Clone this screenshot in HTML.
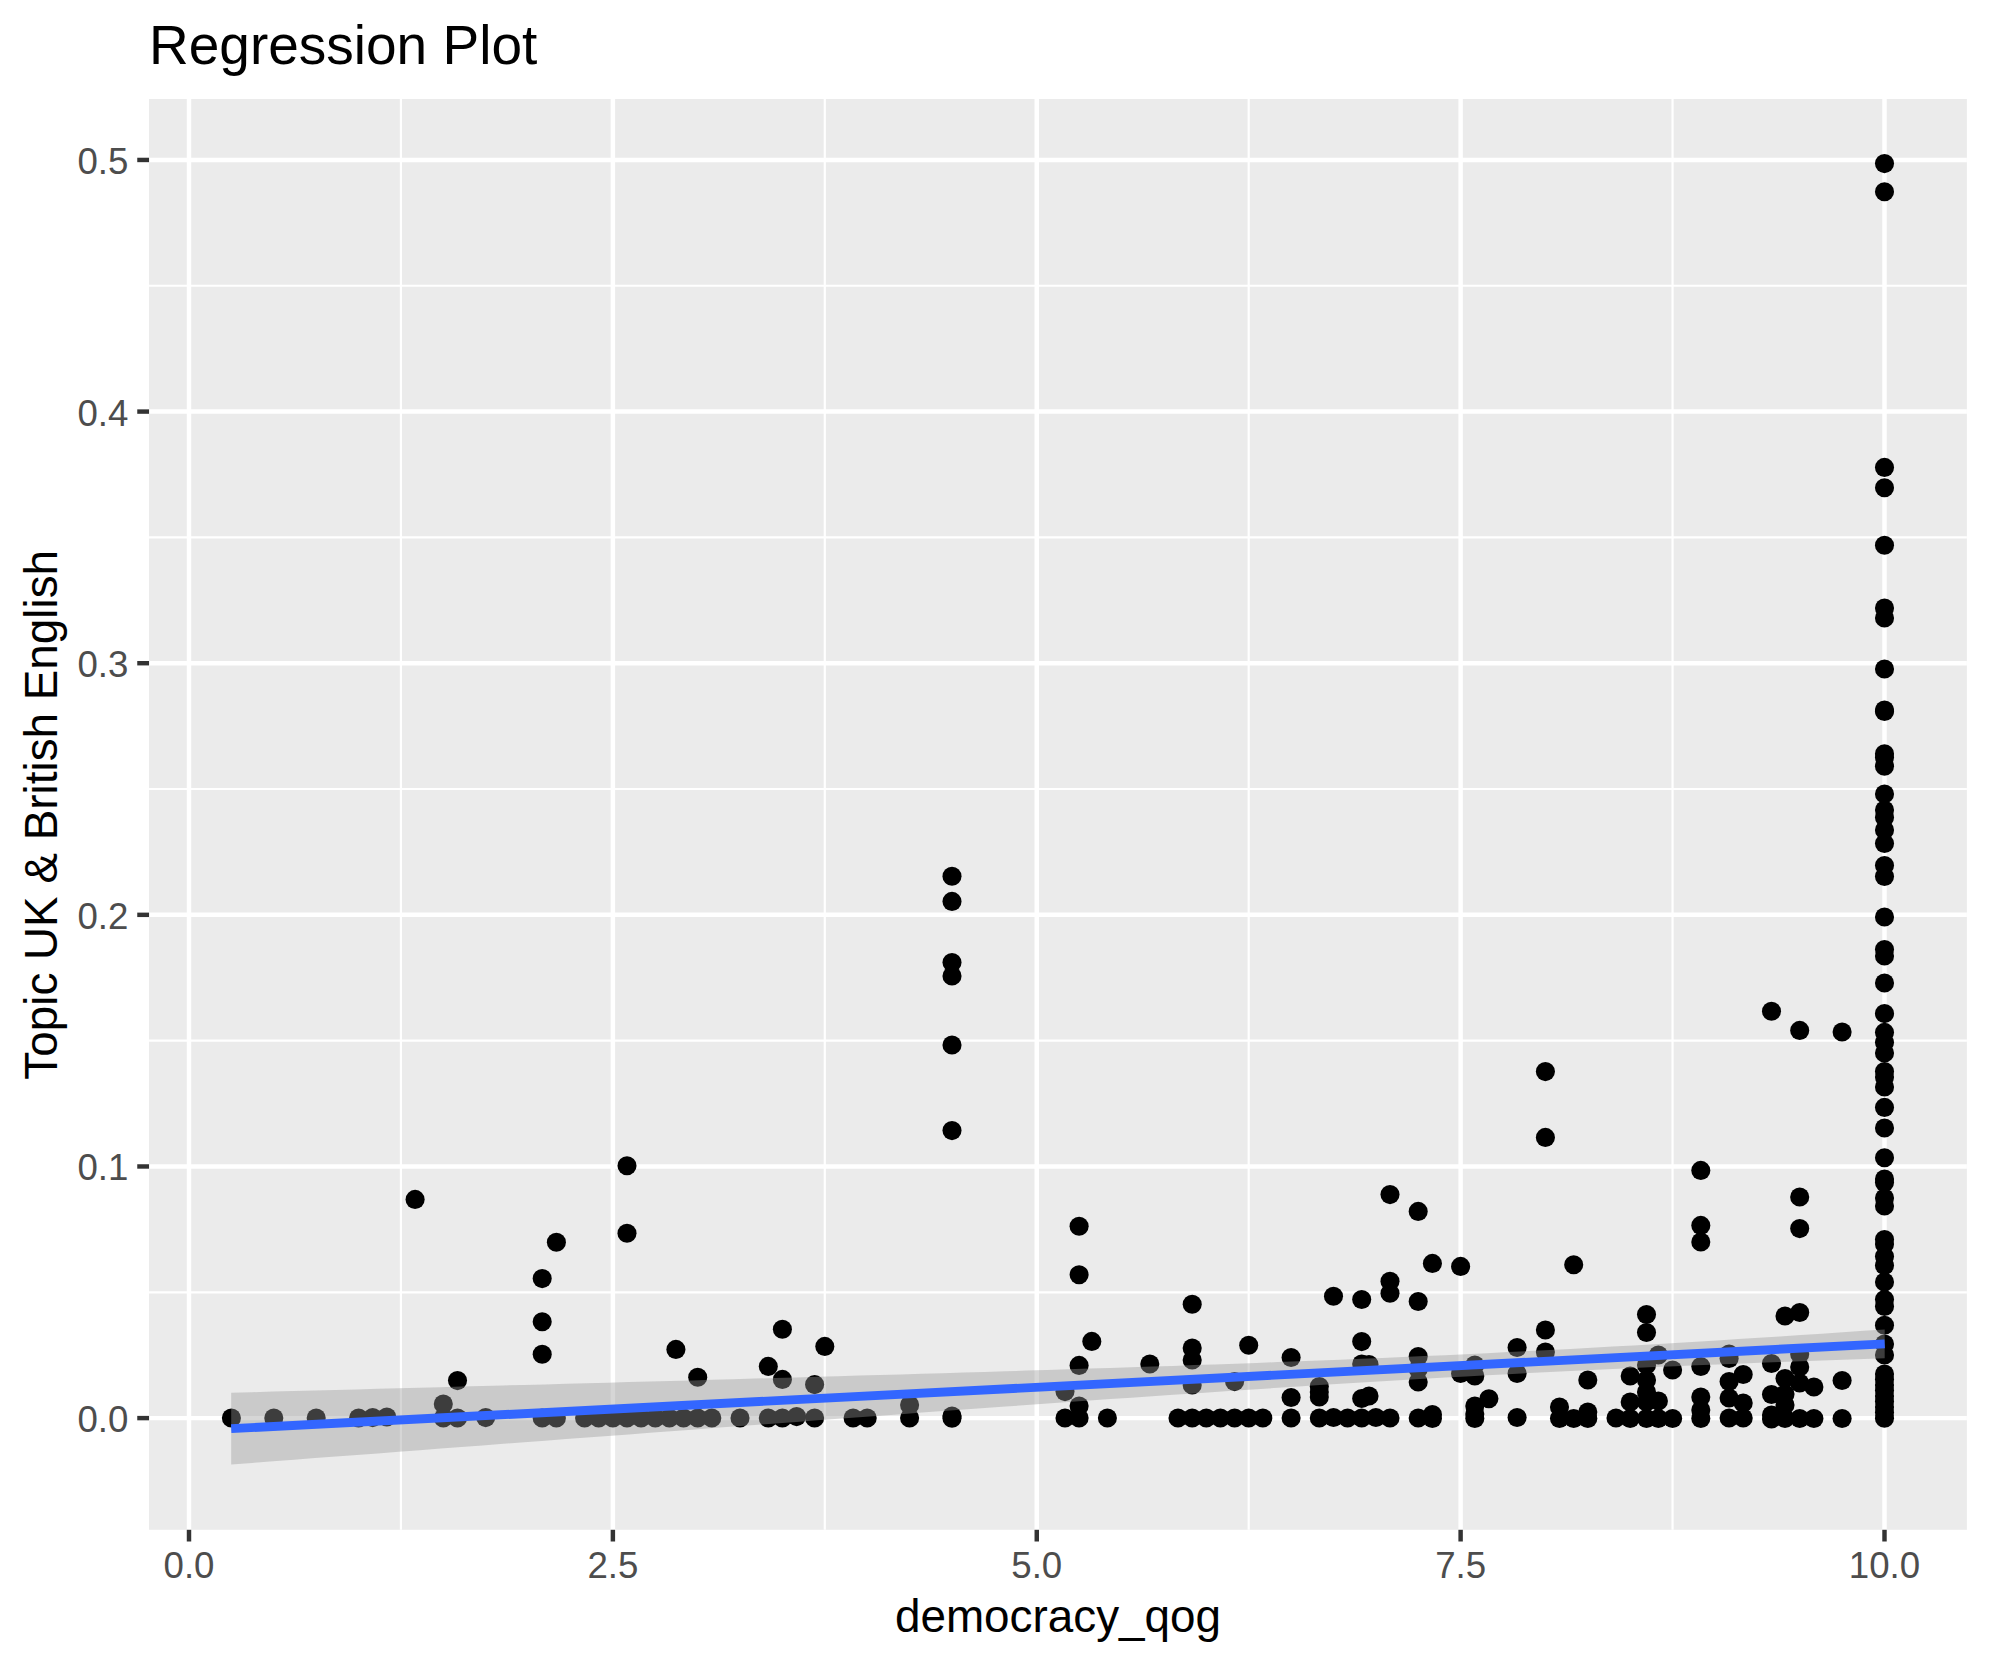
<!DOCTYPE html>
<html lang="en"><head><meta charset="utf-8"><title>Regression Plot</title>
<style>html,body{margin:0;padding:0;background:#fff}body{width:1990px;height:1665px;overflow:hidden}svg{display:block}text{font-family:"Liberation Sans",Arial,Helvetica,sans-serif}</style></head><body>
<svg width="1990" height="1665" viewBox="0 0 1990 1665">
<rect width="1990" height="1665" fill="#fff"/>
<rect x="149.05" y="99.0" width="1817.85" height="1430.80" fill="#EBEBEB"/>
<g stroke="#fff" stroke-width="2.2" fill="none">
<path d="M400.94,99.0V1529.8"/>
<path d="M824.81,99.0V1529.8"/>
<path d="M1248.69,99.0V1529.8"/>
<path d="M1672.56,99.0V1529.8"/>
<path d="M149.05,1292.28H1966.9"/>
<path d="M149.05,1040.65H1966.9"/>
<path d="M149.05,789.02H1966.9"/>
<path d="M149.05,537.39H1966.9"/>
<path d="M149.05,285.76H1966.9"/>
</g>
<g stroke="#fff" stroke-width="4.45" fill="none">
<path d="M189.00,99.0V1529.8"/>
<path d="M612.88,99.0V1529.8"/>
<path d="M1036.75,99.0V1529.8"/>
<path d="M1460.62,99.0V1529.8"/>
<path d="M1884.50,99.0V1529.8"/>
<path d="M149.05,1418.10H1966.9"/>
<path d="M149.05,1166.47H1966.9"/>
<path d="M149.05,914.84H1966.9"/>
<path d="M149.05,663.21H1966.9"/>
<path d="M149.05,411.58H1966.9"/>
<path d="M149.05,159.95H1966.9"/>
</g>
<g fill="#000">
<circle cx="231.4" cy="1418.0" r="9.55"/>
<circle cx="273.8" cy="1418.0" r="9.55"/>
<circle cx="316.2" cy="1418.0" r="9.55"/>
<circle cx="358.6" cy="1418.0" r="9.55"/>
<circle cx="372.7" cy="1417.6" r="9.55"/>
<circle cx="386.8" cy="1417.0" r="9.55"/>
<circle cx="415.1" cy="1199.4" r="9.55"/>
<circle cx="443.3" cy="1404.0" r="9.55"/>
<circle cx="443.3" cy="1418.0" r="9.55"/>
<circle cx="457.5" cy="1380.6" r="9.55"/>
<circle cx="457.5" cy="1418.0" r="9.55"/>
<circle cx="485.7" cy="1417.6" r="9.55"/>
<circle cx="542.2" cy="1278.6" r="9.55"/>
<circle cx="542.2" cy="1321.7" r="9.55"/>
<circle cx="542.2" cy="1354.3" r="9.55"/>
<circle cx="542.2" cy="1418.0" r="9.55"/>
<circle cx="556.4" cy="1242.2" r="9.55"/>
<circle cx="556.4" cy="1418.0" r="9.55"/>
<circle cx="584.6" cy="1418.0" r="9.55"/>
<circle cx="598.7" cy="1418.0" r="9.55"/>
<circle cx="612.9" cy="1418.0" r="9.55"/>
<circle cx="627.0" cy="1418.0" r="9.55"/>
<circle cx="641.1" cy="1418.0" r="9.55"/>
<circle cx="655.3" cy="1418.0" r="9.55"/>
<circle cx="669.4" cy="1418.0" r="9.55"/>
<circle cx="683.5" cy="1418.0" r="9.55"/>
<circle cx="697.7" cy="1418.0" r="9.55"/>
<circle cx="711.8" cy="1418.0" r="9.55"/>
<circle cx="627.0" cy="1165.8" r="9.55"/>
<circle cx="627.0" cy="1233.2" r="9.55"/>
<circle cx="697.7" cy="1377.2" r="9.55"/>
<circle cx="675.9" cy="1349.4" r="9.55"/>
<circle cx="740.0" cy="1418.0" r="9.55"/>
<circle cx="768.3" cy="1366.4" r="9.55"/>
<circle cx="768.3" cy="1418.0" r="9.55"/>
<circle cx="782.4" cy="1329.2" r="9.55"/>
<circle cx="782.4" cy="1379.4" r="9.55"/>
<circle cx="782.4" cy="1418.0" r="9.55"/>
<circle cx="796.6" cy="1416.6" r="9.55"/>
<circle cx="814.6" cy="1384.6" r="9.55"/>
<circle cx="814.6" cy="1418.0" r="9.55"/>
<circle cx="824.8" cy="1346.4" r="9.55"/>
<circle cx="853.1" cy="1418.0" r="9.55"/>
<circle cx="867.2" cy="1418.0" r="9.55"/>
<circle cx="909.6" cy="1405.0" r="9.55"/>
<circle cx="909.6" cy="1418.0" r="9.55"/>
<circle cx="952.0" cy="876.2" r="9.55"/>
<circle cx="952.0" cy="901.4" r="9.55"/>
<circle cx="952.0" cy="962.6" r="9.55"/>
<circle cx="952.0" cy="976.0" r="9.55"/>
<circle cx="952.0" cy="1045.0" r="9.55"/>
<circle cx="952.0" cy="1130.6" r="9.55"/>
<circle cx="952.0" cy="1416.0" r="9.55"/>
<circle cx="952.0" cy="1418.2" r="9.55"/>
<circle cx="1065.0" cy="1391.6" r="9.55"/>
<circle cx="1065.0" cy="1418.0" r="9.55"/>
<circle cx="1079.1" cy="1226.2" r="9.55"/>
<circle cx="1079.1" cy="1274.8" r="9.55"/>
<circle cx="1079.1" cy="1365.4" r="9.55"/>
<circle cx="1079.1" cy="1406.0" r="9.55"/>
<circle cx="1079.1" cy="1418.0" r="9.55"/>
<circle cx="1091.8" cy="1341.4" r="9.55"/>
<circle cx="1107.4" cy="1418.0" r="9.55"/>
<circle cx="1149.8" cy="1364.0" r="9.55"/>
<circle cx="1178.0" cy="1418.0" r="9.55"/>
<circle cx="1192.2" cy="1304.2" r="9.55"/>
<circle cx="1192.2" cy="1348.0" r="9.55"/>
<circle cx="1192.2" cy="1360.0" r="9.55"/>
<circle cx="1192.2" cy="1385.0" r="9.55"/>
<circle cx="1192.2" cy="1418.0" r="9.55"/>
<circle cx="1206.3" cy="1418.0" r="9.55"/>
<circle cx="1220.4" cy="1418.0" r="9.55"/>
<circle cx="1234.6" cy="1381.6" r="9.55"/>
<circle cx="1234.6" cy="1418.0" r="9.55"/>
<circle cx="1248.7" cy="1345.2" r="9.55"/>
<circle cx="1248.7" cy="1418.0" r="9.55"/>
<circle cx="1262.8" cy="1418.0" r="9.55"/>
<circle cx="1291.1" cy="1357.5" r="9.55"/>
<circle cx="1291.1" cy="1397.5" r="9.55"/>
<circle cx="1291.1" cy="1418.0" r="9.55"/>
<circle cx="1319.3" cy="1386.5" r="9.55"/>
<circle cx="1319.3" cy="1392.0" r="9.55"/>
<circle cx="1319.3" cy="1397.0" r="9.55"/>
<circle cx="1319.3" cy="1418.0" r="9.55"/>
<circle cx="1333.5" cy="1296.2" r="9.55"/>
<circle cx="1333.5" cy="1417.5" r="9.55"/>
<circle cx="1347.6" cy="1418.0" r="9.55"/>
<circle cx="1361.7" cy="1299.5" r="9.55"/>
<circle cx="1361.7" cy="1341.6" r="9.55"/>
<circle cx="1361.7" cy="1364.0" r="9.55"/>
<circle cx="1361.7" cy="1398.5" r="9.55"/>
<circle cx="1361.7" cy="1418.0" r="9.55"/>
<circle cx="1369.0" cy="1364.5" r="9.55"/>
<circle cx="1369.0" cy="1396.0" r="9.55"/>
<circle cx="1375.9" cy="1417.5" r="9.55"/>
<circle cx="1390.0" cy="1194.6" r="9.55"/>
<circle cx="1390.0" cy="1281.2" r="9.55"/>
<circle cx="1390.0" cy="1293.3" r="9.55"/>
<circle cx="1390.0" cy="1418.0" r="9.55"/>
<circle cx="1418.2" cy="1211.4" r="9.55"/>
<circle cx="1418.2" cy="1301.5" r="9.55"/>
<circle cx="1418.2" cy="1356.5" r="9.55"/>
<circle cx="1418.2" cy="1369.0" r="9.55"/>
<circle cx="1418.2" cy="1382.0" r="9.55"/>
<circle cx="1418.2" cy="1418.0" r="9.55"/>
<circle cx="1432.4" cy="1263.4" r="9.55"/>
<circle cx="1432.4" cy="1414.5" r="9.55"/>
<circle cx="1432.4" cy="1418.5" r="9.55"/>
<circle cx="1460.6" cy="1266.4" r="9.55"/>
<circle cx="1460.6" cy="1373.5" r="9.55"/>
<circle cx="1474.8" cy="1365.0" r="9.55"/>
<circle cx="1474.8" cy="1376.0" r="9.55"/>
<circle cx="1474.8" cy="1406.0" r="9.55"/>
<circle cx="1474.8" cy="1414.0" r="9.55"/>
<circle cx="1474.8" cy="1418.5" r="9.55"/>
<circle cx="1488.9" cy="1398.7" r="9.55"/>
<circle cx="1517.1" cy="1347.5" r="9.55"/>
<circle cx="1517.1" cy="1373.5" r="9.55"/>
<circle cx="1517.1" cy="1417.5" r="9.55"/>
<circle cx="1545.4" cy="1071.6" r="9.55"/>
<circle cx="1545.4" cy="1137.4" r="9.55"/>
<circle cx="1545.4" cy="1330.0" r="9.55"/>
<circle cx="1545.4" cy="1352.0" r="9.55"/>
<circle cx="1559.5" cy="1407.0" r="9.55"/>
<circle cx="1559.5" cy="1418.5" r="9.55"/>
<circle cx="1573.7" cy="1264.8" r="9.55"/>
<circle cx="1573.7" cy="1418.5" r="9.55"/>
<circle cx="1587.8" cy="1380.0" r="9.55"/>
<circle cx="1587.8" cy="1412.0" r="9.55"/>
<circle cx="1587.8" cy="1418.5" r="9.55"/>
<circle cx="1616.0" cy="1418.0" r="9.55"/>
<circle cx="1630.2" cy="1376.0" r="9.55"/>
<circle cx="1630.2" cy="1402.0" r="9.55"/>
<circle cx="1630.2" cy="1418.5" r="9.55"/>
<circle cx="1646.5" cy="1314.5" r="9.55"/>
<circle cx="1646.5" cy="1332.5" r="9.55"/>
<circle cx="1646.5" cy="1365.0" r="9.55"/>
<circle cx="1646.5" cy="1380.0" r="9.55"/>
<circle cx="1646.5" cy="1392.0" r="9.55"/>
<circle cx="1646.5" cy="1402.0" r="9.55"/>
<circle cx="1646.5" cy="1418.5" r="9.55"/>
<circle cx="1658.4" cy="1355.0" r="9.55"/>
<circle cx="1658.4" cy="1401.0" r="9.55"/>
<circle cx="1658.4" cy="1418.5" r="9.55"/>
<circle cx="1672.6" cy="1370.0" r="9.55"/>
<circle cx="1672.6" cy="1418.5" r="9.55"/>
<circle cx="1700.8" cy="1170.4" r="9.55"/>
<circle cx="1700.8" cy="1225.4" r="9.55"/>
<circle cx="1700.8" cy="1242.0" r="9.55"/>
<circle cx="1700.8" cy="1366.5" r="9.55"/>
<circle cx="1700.8" cy="1397.0" r="9.55"/>
<circle cx="1700.8" cy="1410.0" r="9.55"/>
<circle cx="1700.8" cy="1418.5" r="9.55"/>
<circle cx="1729.1" cy="1354.0" r="9.55"/>
<circle cx="1729.1" cy="1358.5" r="9.55"/>
<circle cx="1729.1" cy="1381.5" r="9.55"/>
<circle cx="1729.1" cy="1398.0" r="9.55"/>
<circle cx="1729.1" cy="1418.0" r="9.55"/>
<circle cx="1743.2" cy="1374.5" r="9.55"/>
<circle cx="1743.2" cy="1403.0" r="9.55"/>
<circle cx="1743.2" cy="1418.0" r="9.55"/>
<circle cx="1771.5" cy="1011.2" r="9.55"/>
<circle cx="1771.5" cy="1363.5" r="9.55"/>
<circle cx="1771.5" cy="1394.5" r="9.55"/>
<circle cx="1771.5" cy="1415.0" r="9.55"/>
<circle cx="1771.5" cy="1419.0" r="9.55"/>
<circle cx="1785.0" cy="1316.0" r="9.55"/>
<circle cx="1785.0" cy="1378.5" r="9.55"/>
<circle cx="1785.0" cy="1394.0" r="9.55"/>
<circle cx="1785.0" cy="1405.0" r="9.55"/>
<circle cx="1785.0" cy="1418.5" r="9.55"/>
<circle cx="1799.7" cy="1030.4" r="9.55"/>
<circle cx="1799.7" cy="1197.0" r="9.55"/>
<circle cx="1799.7" cy="1228.6" r="9.55"/>
<circle cx="1799.7" cy="1312.5" r="9.55"/>
<circle cx="1799.7" cy="1354.0" r="9.55"/>
<circle cx="1799.7" cy="1367.0" r="9.55"/>
<circle cx="1799.7" cy="1383.0" r="9.55"/>
<circle cx="1799.7" cy="1418.5" r="9.55"/>
<circle cx="1813.9" cy="1387.0" r="9.55"/>
<circle cx="1813.9" cy="1418.5" r="9.55"/>
<circle cx="1842.1" cy="1032.0" r="9.55"/>
<circle cx="1842.1" cy="1380.5" r="9.55"/>
<circle cx="1842.1" cy="1418.5" r="9.55"/>
<circle cx="1884.5" cy="163.6" r="9.55"/>
<circle cx="1884.5" cy="191.8" r="9.55"/>
<circle cx="1884.5" cy="467.4" r="9.55"/>
<circle cx="1884.5" cy="487.8" r="9.55"/>
<circle cx="1884.5" cy="545.2" r="9.55"/>
<circle cx="1884.5" cy="608.0" r="9.55"/>
<circle cx="1884.5" cy="618.0" r="9.55"/>
<circle cx="1884.5" cy="669.0" r="9.55"/>
<circle cx="1884.5" cy="710.0" r="9.55"/>
<circle cx="1884.5" cy="711.5" r="9.55"/>
<circle cx="1884.5" cy="753.7" r="9.55"/>
<circle cx="1884.5" cy="757.5" r="9.55"/>
<circle cx="1884.5" cy="766.2" r="9.55"/>
<circle cx="1884.5" cy="794.0" r="9.55"/>
<circle cx="1884.5" cy="810.0" r="9.55"/>
<circle cx="1884.5" cy="817.5" r="9.55"/>
<circle cx="1884.5" cy="830.0" r="9.55"/>
<circle cx="1884.5" cy="843.5" r="9.55"/>
<circle cx="1884.5" cy="865.5" r="9.55"/>
<circle cx="1884.5" cy="876.5" r="9.55"/>
<circle cx="1884.5" cy="917.0" r="9.55"/>
<circle cx="1884.5" cy="949.6" r="9.55"/>
<circle cx="1884.5" cy="956.0" r="9.55"/>
<circle cx="1884.5" cy="983.0" r="9.55"/>
<circle cx="1884.5" cy="1013.6" r="9.55"/>
<circle cx="1884.5" cy="1032.4" r="9.55"/>
<circle cx="1884.5" cy="1042.4" r="9.55"/>
<circle cx="1884.5" cy="1053.0" r="9.55"/>
<circle cx="1884.5" cy="1071.6" r="9.55"/>
<circle cx="1884.5" cy="1077.0" r="9.55"/>
<circle cx="1884.5" cy="1087.0" r="9.55"/>
<circle cx="1884.5" cy="1107.4" r="9.55"/>
<circle cx="1884.5" cy="1128.0" r="9.55"/>
<circle cx="1884.5" cy="1157.7" r="9.55"/>
<circle cx="1884.5" cy="1179.0" r="9.55"/>
<circle cx="1884.5" cy="1182.5" r="9.55"/>
<circle cx="1884.5" cy="1198.0" r="9.55"/>
<circle cx="1884.5" cy="1206.0" r="9.55"/>
<circle cx="1884.5" cy="1239.5" r="9.55"/>
<circle cx="1884.5" cy="1244.0" r="9.55"/>
<circle cx="1884.5" cy="1256.5" r="9.55"/>
<circle cx="1884.5" cy="1265.5" r="9.55"/>
<circle cx="1884.5" cy="1282.0" r="9.55"/>
<circle cx="1884.5" cy="1299.5" r="9.55"/>
<circle cx="1884.5" cy="1306.5" r="9.55"/>
<circle cx="1884.5" cy="1325.2" r="9.55"/>
<circle cx="1884.5" cy="1344.0" r="9.55"/>
<circle cx="1884.5" cy="1355.0" r="9.55"/>
<circle cx="1884.5" cy="1374.0" r="9.55"/>
<circle cx="1884.5" cy="1379.5" r="9.55"/>
<circle cx="1884.5" cy="1385.0" r="9.55"/>
<circle cx="1884.5" cy="1390.5" r="9.55"/>
<circle cx="1884.5" cy="1396.0" r="9.55"/>
<circle cx="1884.5" cy="1401.5" r="9.55"/>
<circle cx="1884.5" cy="1407.0" r="9.55"/>
<circle cx="1884.5" cy="1412.5" r="9.55"/>
<circle cx="1884.5" cy="1418.2" r="9.55"/>
</g>
<path d="M231.2,1392.7 L252.1,1392.2 L273.1,1391.6 L294.0,1391.1 L314.9,1390.5 L335.9,1390.0 L356.8,1389.4 L377.7,1388.8 L398.6,1388.3 L419.6,1387.7 L440.5,1387.2 L461.4,1386.6 L482.4,1386.1 L503.3,1385.5 L524.2,1384.9 L545.2,1384.4 L566.1,1383.8 L587.0,1383.2 L607.9,1382.7 L628.9,1382.1 L649.8,1381.5 L670.7,1380.9 L691.7,1380.4 L712.6,1379.8 L733.5,1379.2 L754.5,1378.6 L775.4,1378.0 L796.3,1377.4 L817.3,1376.8 L838.2,1376.2 L859.1,1375.6 L880.0,1375.0 L901.0,1374.4 L921.9,1373.8 L942.8,1373.2 L963.8,1372.5 L984.7,1371.9 L1005.6,1371.3 L1026.6,1370.6 L1047.5,1370.0 L1068.4,1369.3 L1089.3,1368.6 L1110.3,1368.0 L1131.2,1367.3 L1152.1,1366.6 L1173.1,1365.9 L1194.0,1365.1 L1214.9,1364.4 L1235.9,1363.7 L1256.8,1362.9 L1277.7,1362.1 L1298.6,1361.3 L1319.6,1360.5 L1340.5,1359.7 L1361.4,1358.8 L1382.4,1357.9 L1403.3,1357.0 L1424.2,1356.1 L1445.2,1355.2 L1466.1,1354.2 L1487.0,1353.2 L1508.0,1352.1 L1528.9,1351.1 L1549.8,1350.0 L1570.7,1348.9 L1591.7,1347.8 L1612.6,1346.6 L1633.5,1345.4 L1654.5,1344.2 L1675.4,1342.9 L1696.3,1341.7 L1717.3,1340.4 L1738.2,1339.1 L1759.1,1337.7 L1780.0,1336.4 L1801.0,1335.0 L1821.9,1333.7 L1842.8,1332.3 L1863.8,1330.8 L1884.7,1329.4 L1884.7,1358.3 L1863.8,1359.0 L1842.8,1359.7 L1821.9,1360.5 L1801.0,1361.3 L1780.0,1362.0 L1759.1,1362.8 L1738.2,1363.7 L1717.3,1364.5 L1696.3,1365.3 L1675.4,1366.2 L1654.5,1367.1 L1633.5,1368.1 L1612.6,1369.0 L1591.7,1370.0 L1570.7,1371.0 L1549.8,1372.0 L1528.9,1373.1 L1508.0,1374.2 L1487.0,1375.3 L1466.1,1376.4 L1445.2,1377.6 L1424.2,1378.8 L1403.3,1380.0 L1382.4,1381.3 L1361.4,1382.5 L1340.5,1383.8 L1319.6,1385.1 L1298.6,1386.5 L1277.7,1387.8 L1256.8,1389.2 L1235.9,1390.6 L1214.9,1392.0 L1194.0,1393.4 L1173.1,1394.8 L1152.1,1396.2 L1131.2,1397.7 L1110.3,1399.1 L1089.3,1400.6 L1068.4,1402.1 L1047.5,1403.6 L1026.6,1405.1 L1005.6,1406.6 L984.7,1408.1 L963.8,1409.6 L942.8,1411.1 L921.9,1412.6 L901.0,1414.2 L880.0,1415.7 L859.1,1417.2 L838.2,1418.8 L817.3,1420.3 L796.3,1421.9 L775.4,1423.4 L754.5,1425.0 L733.5,1426.5 L712.6,1428.1 L691.7,1429.7 L670.7,1431.2 L649.8,1432.8 L628.9,1434.4 L607.9,1435.9 L587.0,1437.5 L566.1,1439.1 L545.2,1440.7 L524.2,1442.3 L503.3,1443.8 L482.4,1445.4 L461.4,1447.0 L440.5,1448.6 L419.6,1450.2 L398.6,1451.8 L377.7,1453.4 L356.8,1454.9 L335.9,1456.5 L314.9,1458.1 L294.0,1459.7 L273.1,1461.3 L252.1,1462.9 L231.2,1464.5Z" fill="#999999" fill-opacity="0.4"/>
<path d="M231.2,1428.61L1884.7,1343.85" stroke="#3366FF" stroke-width="8.9" fill="none"/>
<g stroke="#333" stroke-width="4.45" fill="none">
<path d="M189.00,1529.8v11.7"/>
<path d="M612.88,1529.8v11.7"/>
<path d="M1036.75,1529.8v11.7"/>
<path d="M1460.62,1529.8v11.7"/>
<path d="M1884.50,1529.8v11.7"/>
<path d="M149.05,1418.10h-11.8"/>
<path d="M149.05,1166.47h-11.8"/>
<path d="M149.05,914.84h-11.8"/>
<path d="M149.05,663.21h-11.8"/>
<path d="M149.05,411.58h-11.8"/>
<path d="M149.05,159.95h-11.8"/>
</g>
<g fill="#4D4D4D" font-size="36.67px">
<text x="189.00" y="1578" text-anchor="middle">0.0</text>
<text x="612.88" y="1578" text-anchor="middle">2.5</text>
<text x="1036.75" y="1578" text-anchor="middle">5.0</text>
<text x="1460.62" y="1578" text-anchor="middle">7.5</text>
<text x="1884.50" y="1578" text-anchor="middle">10.0</text>
<text x="128.4" y="1432.10" text-anchor="end">0.0</text>
<text x="128.4" y="1180.47" text-anchor="end">0.1</text>
<text x="128.4" y="928.84" text-anchor="end">0.2</text>
<text x="128.4" y="677.21" text-anchor="end">0.3</text>
<text x="128.4" y="425.58" text-anchor="end">0.4</text>
<text x="128.4" y="173.95" text-anchor="end">0.5</text>
</g>
<text x="149" y="64" font-size="55px" fill="#000">Regression Plot</text>
<text x="1058" y="1632" font-size="45.83px" fill="#000" text-anchor="middle">democracy_qog</text>
<text transform="translate(56.7,814.8) rotate(-90)" font-size="45.83px" fill="#000" text-anchor="middle">Topic UK &amp; British English</text>
</svg></body></html>
